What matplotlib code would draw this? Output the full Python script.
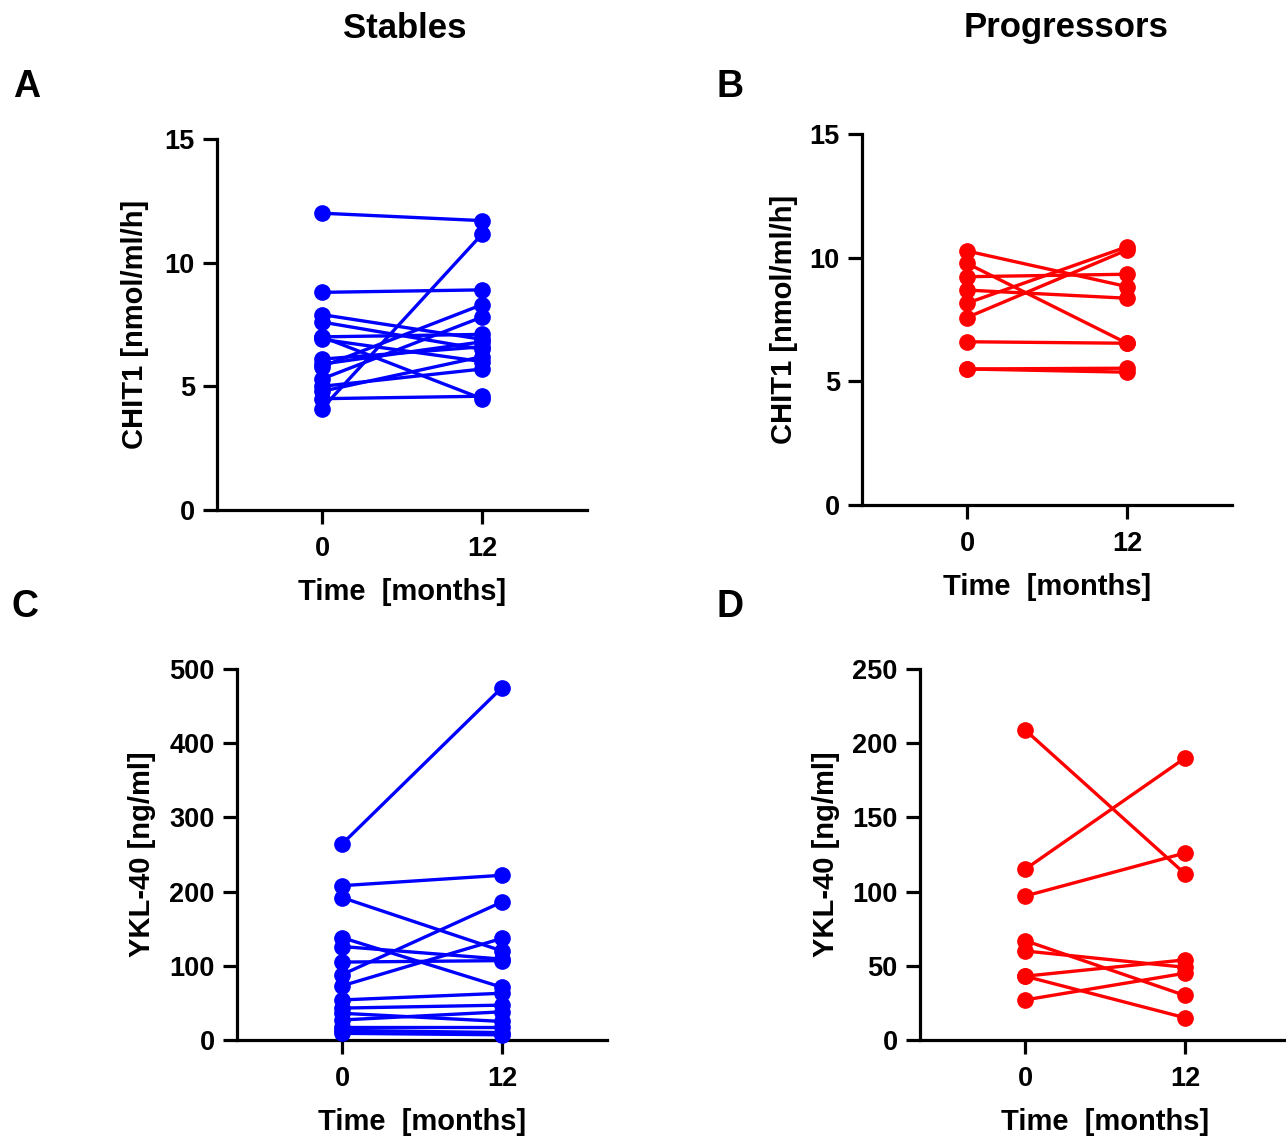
import matplotlib
matplotlib.use("Agg")
import matplotlib.pyplot as plt

plt.rcParams['font.family'] = ['Liberation Sans', 'DejaVu Sans']
plt.rcParams['font.weight'] = 'bold'

# time points (months)
months = [0, 12]

# CHIT1 [nmol/ml/h], stables: value at 0 and at 12 months per subject
stables_chit1_0 = [12.0, 4.1, 8.8, 4.5, 7.0, 5.8, 5.3, 7.9, 7.6, 6.9, 6.1, 5.0, 4.8, 7.0, 5.9]
stables_chit1_12 = [11.7, 11.15, 8.9, 4.6, 4.5, 8.3, 7.8, 6.9, 6.5, 6.0, 6.6, 5.7, 6.2, 7.1, 6.8]

# CHIT1, progressors
prog_chit1_0 = [10.27, 9.77, 9.23, 8.69, 8.16, 7.58, 6.60, 5.50, 5.50]
prog_chit1_12 = [8.83, 6.54, 9.33, 8.36, 10.44, 10.31, 6.54, 5.37, 5.53]

# YKL-40 [ng/ml], stables
stables_ykl_0 = [264, 208, 192, 138, 126, 105, 88, 73, 54, 43, 36, 27, 18, 13, 9]
stables_ykl_12 = [475, 222, 120, 71, 109, 107, 186, 137, 63, 47, 25, 38, 18, 10, 7]

# YKL-40, progressors
prog_ykl_0 = [209, 115, 97, 67, 60, 43, 43, 27]
prog_ykl_12 = [112, 190, 126, 30, 49, 54, 15, 45]

W, H = 1286, 1139
fig = plt.figure(figsize=(W / 100, H / 100), dpi=100)


def make_axes(left, bottom_px):
    return fig.add_axes([left / W, (H - bottom_px) / H, 370 / W, 371 / H])


def panel(ax, v0, v12, color, ymax, yticks, ylabel, ylab_x):
    for a, b in zip(v0, v12):
        ax.plot(months, [a, b], color=color, lw=2.4, marker='o', ms=11,
                clip_on=False, zorder=3)
    ax.set_xlim(-7.875, 19.875)
    ax.set_ylim(0, ymax)
    ax.set_xticks(months)
    ax.set_yticks(yticks)
    ax.spines['top'].set_visible(False)
    ax.spines['right'].set_visible(False)
    for s in ('left', 'bottom'):
        ax.spines[s].set_linewidth(2.3)
    ax.tick_params(width=2.3, length=10, labelsize=19.5, pad=6)
    ax.tick_params(axis='x', pad=9)
    for lab in ax.get_xticklabels() + ax.get_yticklabels():
        lab.set_fontweight('bold')
    ax.set_xlabel('Time  [months]', fontsize=21, fontweight='bold')
    ax.xaxis.set_label_coords(0.5, -0.183)
    ax.set_ylabel(ylabel, fontsize=21, fontweight='bold')
    ax.yaxis.set_label_coords(ylab_x, 0.5)


blue = '#0000FF'
red = '#FF0000'

axA = make_axes(217, 510)
panel(axA, stables_chit1_0, stables_chit1_12, blue, 15, [0, 5, 10, 15],
      'CHIT1 [nmol/ml/h]', -0.183)

axB = make_axes(862, 505)
panel(axB, prog_chit1_0, prog_chit1_12, red, 15, [0, 5, 10, 15],
      'CHIT1 [nmol/ml/h]', -0.173)

axC = make_axes(237, 1040)
panel(axC, stables_ykl_0, stables_ykl_12, blue, 500, [0, 100, 200, 300, 400, 500],
      'YKL-40 [ng/ml]', -0.218)

axD = make_axes(920, 1040)
panel(axD, prog_ykl_0, prog_ykl_12, red, 250, [0, 50, 100, 150, 200, 250],
      'YKL-40 [ng/ml]', -0.215)

fig.text(405 / W, 1 - 28 / H, 'Stables', ha='center', va='center', fontsize=25, fontweight='bold')
fig.text(1066 / W, 1 - 28 / H, 'Progressors', ha='center', va='center', fontsize=25, fontweight='bold')
for letter, x, y in [('A', 27, 87), ('B', 730, 87), ('C', 25, 607), ('D', 730, 607)]:
    fig.text(x / W, 1 - y / H, letter, ha='center', va='center', fontsize=27, fontweight='bold')

fig.savefig('out.png', dpi=100)
